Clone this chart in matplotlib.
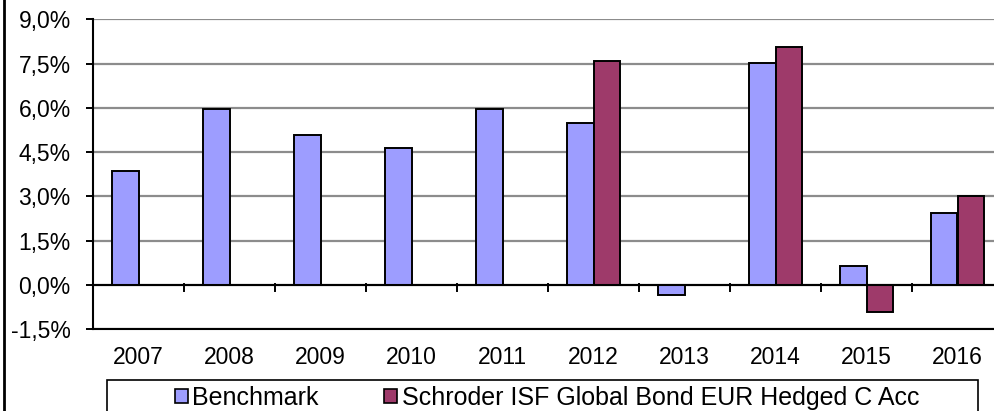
import matplotlib
matplotlib.use("Agg")
import matplotlib.pyplot as plt
from matplotlib.patches import Patch, Rectangle
from matplotlib.lines import Line2D
import numpy as np

years = ["2007", "2008", "2009", "2010", "2011", "2012", "2013", "2014", "2015", "2016"]
benchmark = [3.87, 5.95, 5.08, 4.65, 5.95, 5.5, -0.35, 7.52, 0.65, 2.43]
fund = [np.nan, np.nan, np.nan, np.nan, np.nan, 7.58, np.nan, 8.06, -0.92, 3.0]
yticks = [-1.5, 0.0, 1.5, 3.0, 4.5, 6.0, 7.5, 9.0]
labels = ["Benchmark", "Schroder ISF Global Bond EUR Hedged C Acc"]
colors = ["#9d9dff", "#9e3a6a"]

plt.rcParams.update({"font.family": "Liberation Sans", "font.size": 16.5})

W, H = 995, 411
fig = plt.figure(figsize=(W / 100, H / 100), dpi=100)
ax = fig.add_axes([93 / W, (H - 329.3) / H, 910 / W, 310 / H])

x = np.arange(len(years))
bw = 0.286
ax.bar(x - bw / 2, benchmark, bw, color=colors[0], edgecolor="black", lw=1.4, zorder=3)
ax.bar(x + bw / 2, fund, bw, color=colors[1], edgecolor="black", lw=1.4, zorder=3)

ax.set_xlim(-0.5, len(years) - 0.5)
ax.set_ylim(-1.5, 9.0)
ax.set_yticks(yticks)
ax.set_yticklabels([f"{v:.1f}%".replace(".", ",") for v in yticks])
ax.set_xticks(x)
ax.set_xticklabels(years)
ax.tick_params(axis="x", length=0, pad=12)
ax.tick_params(axis="y", length=5, width=1.4, pad=11, direction="out")

ax.grid(axis="y", color="#8c8c8c", lw=1.6, zorder=0)
ax.set_axisbelow(True)
for s in ["top", "right"]:
    ax.spines[s].set_visible(False)
for s in ["left", "bottom"]:
    ax.spines[s].set_linewidth(1.5)
    ax.spines[s].set_zorder(4)

# category axis at zero with boundary ticks
ax.axhline(0, color="black", lw=1.5, zorder=4)
for b in np.arange(len(years) + 1) - 0.5:
    ax.plot([b, b], [0.05, -0.2], color="black", lw=1.4, zorder=4, clip_on=False)

# chart area border (left edge)
fig.add_artist(Line2D([4 / W, 4 / W], [0, 1], color="black", lw=2))

# legend
fig.add_artist(Rectangle((107 / W, -0.1), 871 / W, (H - 380) / H + 0.1,
                         transform=fig.transFigure, fill=False, ec="black", lw=1.2))
handles = [Patch(facecolor=c, edgecolor="black", lw=1.2) for c in colors]
fig.legend(handles, labels, loc="center left", bbox_to_anchor=(175 / W, (H - 398) / H),
           ncol=2, frameon=False, fontsize=18, handlelength=0.5, handleheight=0.5,
           handletextpad=0.2, columnspacing=2.6, borderpad=0, borderaxespad=0)

fig.savefig("out.png", dpi=100, facecolor="white")
